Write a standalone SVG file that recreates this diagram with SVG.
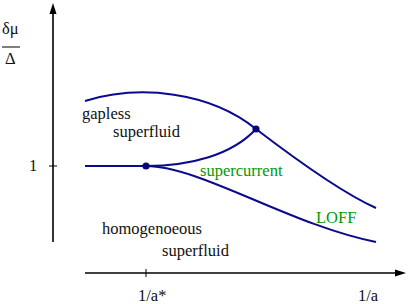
<svg xmlns="http://www.w3.org/2000/svg" width="409" height="304" viewBox="0 0 409 304">
<style>
.t{font-family:'Liberation Serif','DejaVu Serif',serif;font-size:16.5px;fill:#111}
.g{fill:#009a00}
.ax{stroke:#000;stroke-width:1.6;fill:none}
.cv{stroke:#0a0a8c;stroke-width:2;fill:none}
.pt{fill:#06067a}
</style>
<rect width="409" height="304" fill="#fff"/>
<g id="axes">
<line class="ax" x1="53" y1="242" x2="53" y2="12"/>
<polygon points="53,3 49.5,14 56.5,14" fill="#000"/>
<line class="ax" x1="85" y1="273" x2="396" y2="273"/>
<polygon points="406,273 395,269.5 395,276.5" fill="#000"/>
<line stroke="#000" stroke-width="1" x1="49" y1="166" x2="57" y2="166"/>
<line stroke="#000" stroke-width="1" x1="146" y1="269" x2="146" y2="277"/>
<line stroke="#000" stroke-width="1" x1="2" y1="47" x2="20" y2="47"/>
</g>
<g id="connectors">
<path class="cv" d="M85,101 C140,84 210,92 256,129 C290,155 340,192 376,208"/>
<path class="cv" d="M85,166 L146,166"/>
<path class="cv" d="M146,166 C190,166 232,155 256,129"/>
<path class="cv" d="M146,166 C200,166 290,225 376,242"/>
</g>
<g id="point-a"><circle class="pt" cx="146" cy="166" r="3.6"/></g>
<g id="point-b"><circle class="pt" cx="256" cy="129" r="3.6"/></g>
<g id="labels" font-family="'Liberation Serif', serif">
<text class="t" x="2" y="34">δμ</text>
<text class="t" x="5" y="64">Δ</text>
<text class="t" x="33" y="171" text-anchor="middle">1</text>
<text class="t" x="82" y="119">gapless</text>
<text class="t" x="113" y="137">superfluid</text>
<text class="t g" x="200" y="176">supercurrent</text>
<text class="t g" x="316" y="223">LOFF</text>
<text class="t" x="102" y="234">homogenoeous</text>
<text class="t" x="162" y="256">superfluid</text>
<text class="t" x="138" y="301">1/a*</text>
<text class="t" x="358" y="301">1/a</text>
</g>
</svg>
